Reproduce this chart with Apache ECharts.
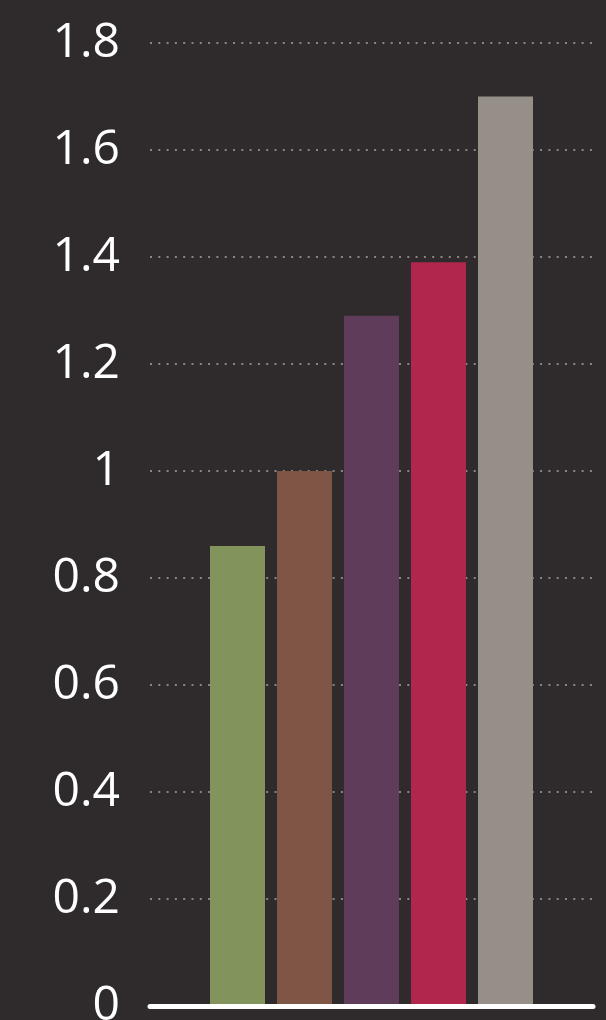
<!DOCTYPE html>
<html>
<head>
<meta charset="utf-8">
<script src="https://cdn.jsdelivr.net/npm/echarts@6/dist/echarts.min.js"></script>
<style>
  html, body { margin: 0; padding: 0; background: #2f2a2c; }
  #chart { width: 606px; height: 1020px; }
</style>
</head>
<body>
<div id="chart"></div>
<script>
// Chart data
const categories = ['A', 'B', 'C', 'D', 'E'];
const values = [0.86, 1.0, 1.29, 1.39, 1.7];
const barColors = ['#83935c', '#7f5546', '#5f3c5a', '#b0264c', '#958f88'];
const tickLabels = ['0', '0.2', '0.4', '0.6', '0.8', '1', '1.2', '1.4', '1.6', '1.8'];

const Y_MIN = 0, Y_MAX = 1.8, Y_STEP = 0.2;

const chart = echarts.init(document.getElementById('chart'));

chart.setOption({
  backgroundColor: '#2f2a2c',
  animation: false,
  grid: [
    // frame grid: gridlines, baseline and tick labels
    { left: 150, right: 13, top: 43, bottom: 14, outerBoundsMode: 'none', containLabel: false },
    // bar grid: narrower band where the five bars sit
    { left: 204, right: 67, top: 43, bottom: 14, outerBoundsMode: 'none', containLabel: false }
  ],
  xAxis: [
    {
      gridIndex: 0,
      type: 'category',
      data: [''],
      axisLine: { show: true, lineStyle: { color: '#ffffff', width: 5, cap: 'round' } },
      axisTick: { show: false },
      axisLabel: { show: false },
      z: 5
    },
    {
      gridIndex: 1,
      type: 'category',
      data: categories,
      axisLine: { show: false },
      axisTick: { show: false },
      axisLabel: { show: false }
    }
  ],
  yAxis: [
    {
      gridIndex: 0,
      type: 'value',
      min: Y_MIN,
      max: Y_MAX,
      interval: Y_STEP,
      axisLine: { show: false },
      axisTick: { show: false },
      axisLabel: {
        color: '#ffffff',
        fontFamily: 'Open Sans',
        fontSize: 48,
        margin: 30,
        formatter: v => tickLabels[Math.round(v / Y_STEP)]
      },
      splitLine: {
        show: true,
        lineStyle: { color: '#8b8587', width: 2, type: [2, 6.3] }
      }
    },
    {
      gridIndex: 1,
      type: 'value',
      min: Y_MIN,
      max: Y_MAX,
      interval: Y_STEP,
      axisLine: { show: false },
      axisTick: { show: false },
      axisLabel: { show: false },
      splitLine: { show: false }
    }
  ],
  series: [
    {
      type: 'bar',
      xAxisIndex: 1,
      yAxisIndex: 1,
      barWidth: 55,
      data: values.map((v, i) => ({ value: v, itemStyle: { color: barColors[i] } })),
      z: 3
    }
  ]
});
</script>
</body>
</html>
